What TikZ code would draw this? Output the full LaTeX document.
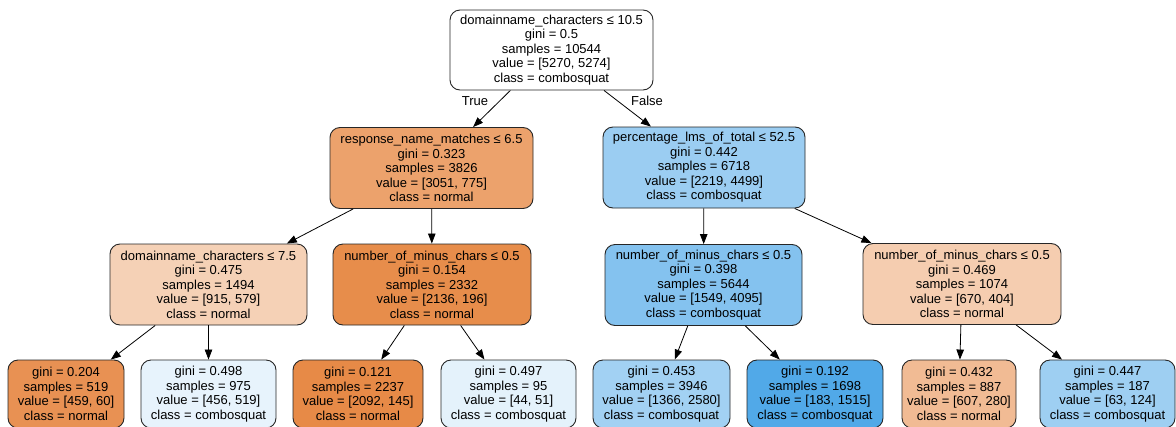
\documentclass[tikz,border=0pt]{standalone}
\usepackage{fontspec}
\setmainfont{Liberation Sans}
\usetikzlibrary{arrows.meta}

% node fill colours (class colour blended with white by purity)
\definecolor{cRoot}{RGB}{255,255,255}
\definecolor{cNa}{RGB}{236,162,108}
\definecolor{cNb}{RGB}{155,205,242}
\definecolor{cA}{RGB}{245,209,182}
\definecolor{cB}{RGB}{231,141,75}
\definecolor{cC}{RGB}{132,194,239}
\definecolor{cD}{RGB}{245,205,176}
\definecolor{cLa}{RGB}{232,145,83}
\definecolor{cLb}{RGB}{231,243,252}
\definecolor{cLc}{RGB}{231,138,71}
\definecolor{cLd}{RGB}{228,242,251}
\definecolor{cLe}{RGB}{162,209,243}
\definecolor{cLf}{RGB}{81,169,232}
\definecolor{cLg}{RGB}{241,187,148}
\definecolor{cLh}{RGB}{158,207,242}

\tikzset{
  treenode/.style={draw=black!85, line width=0.9pt, rounded corners=10pt,
    align=center, inner sep=0pt,
    font=\fontsize{13}{14.5}\selectfont},
  splitnode/.style={treenode, minimum height=81pt},
  leafnode/.style={treenode, minimum height=68pt},
  edge/.style={draw=black, line width=0.8pt, -{Triangle[length=10pt,width=7.5pt]}},
  edgelabel/.style={font=\fontsize{13}{14.5}\selectfont, inner sep=0pt}
}

\begin{document}
\begin{tikzpicture}[x=1pt,y=-1pt]
\useasboundingbox (0,0) rectangle (1176,426);

% internal split nodes
\node[splitnode, fill=cRoot, minimum width=203pt, minimum height=80pt] (root) at (551.5,50)
  {domainname\_characters ≤ 10.5\\gini = 0.5\\samples = 10544\\value = [5270, 5274]\\class = combosquat};
\node[splitnode, fill=cNa, minimum width=203pt] (na) at (431.5,168)
  {response\_name\_matches ≤ 6.5\\gini = 0.323\\samples = 3826\\value = [3051, 775]\\class = normal};
\node[splitnode, fill=cNb, minimum width=202pt] (nb) at (704,167.5)
  {percentage\_lms\_of\_total ≤ 52.5\\gini = 0.442\\samples = 6718\\value = [2219, 4499]\\class = combosquat};
\node[splitnode, fill=cA, minimum width=197pt] (sa) at (208.5,284.5)
  {domainname\_characters ≤ 7.5\\gini = 0.475\\samples = 1494\\value = [915, 579]\\class = normal};
\node[splitnode, fill=cB, minimum width=198pt] (sb) at (432,284.5)
  {number\_of\_minus\_chars ≤ 0.5\\gini = 0.154\\samples = 2332\\value = [2136, 196]\\class = normal};
\node[splitnode, fill=cC, minimum width=197pt] (sc) at (703.5,285)
  {number\_of\_minus\_chars ≤ 0.5\\gini = 0.398\\samples = 5644\\value = [1549, 4095]\\class = combosquat};
\node[splitnode, fill=cD, minimum width=198pt] (sd) at (962,284)
  {number\_of\_minus\_chars ≤ 0.5\\gini = 0.469\\samples = 1074\\value = [670, 404]\\class = normal};

% leaves
\node[leafnode, fill=cLa, minimum width=116pt] (la) at (66,394)
  {gini = 0.204\\samples = 519\\value = [459, 60]\\class = normal};
\node[leafnode, fill=cLb, minimum width=135pt] (lb) at (208.5,394)
  {gini = 0.498\\samples = 975\\value = [456, 519]\\class = combosquat};
\node[leafnode, fill=cLc, minimum width=130pt] (lc) at (358,394)
  {gini = 0.121\\samples = 2237\\value = [2092, 145]\\class = normal};
\node[leafnode, fill=cLd, minimum width=135pt] (ld) at (508.5,394)
  {gini = 0.497\\samples = 95\\value = [44, 51]\\class = combosquat};
\node[leafnode, fill=cLe, minimum width=137pt] (le) at (661.5,394)
  {gini = 0.453\\samples = 3946\\value = [1366, 2580]\\class = combosquat};
\node[leafnode, fill=cLf, minimum width=136pt] (lf) at (815,394)
  {gini = 0.192\\samples = 1698\\value = [183, 1515]\\class = combosquat};
\node[leafnode, fill=cLg, minimum width=114pt] (lg) at (959,394)
  {gini = 0.432\\samples = 887\\value = [607, 280]\\class = normal};
\node[leafnode, fill=cLh, minimum width=135pt] (lh) at (1107.5,394)
  {gini = 0.447\\samples = 187\\value = [63, 124]\\class = combosquat};

% connectors
\draw[edge] (root) -- (na);
\draw[edge] (root) -- (nb);
\draw[edge] (na) -- (sa);
\draw[edge] (na) -- (sb);
\draw[edge] (nb) -- (sc);
\draw[edge] (nb) -- (sd);
\draw[edge] (sa) -- (la);
\draw[edge] (sa) -- (lb);
\draw[edge] (sb) -- (lc);
\draw[edge] (sb) -- (ld);
\draw[edge] (sc) -- (le);
\draw[edge] (sc) -- (lf);
\draw[edge] (sd) -- (lg);
\draw[edge] (sd) -- (lh);

% branch labels
\node[edgelabel] (tlab) at (475,101) {True};
\node[edgelabel] (flab) at (647,101) {False};
\end{tikzpicture}
\end{document}
